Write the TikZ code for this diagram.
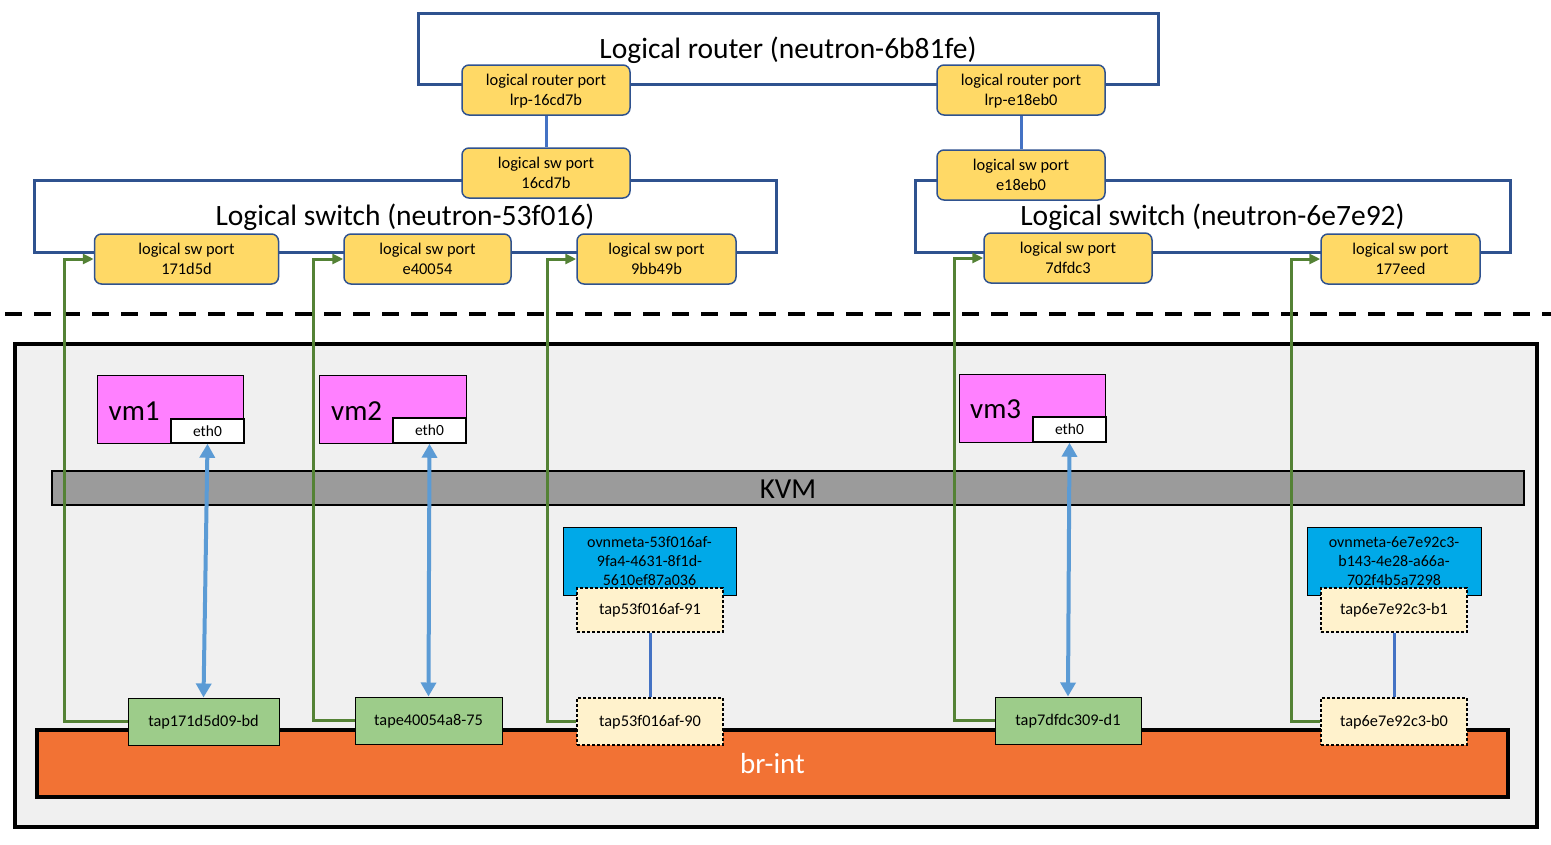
\documentclass[tikz,border=0pt]{standalone}
\usepackage{fontspec}
\setmainfont{Carlito}
\usetikzlibrary{arrows.meta}
\definecolor{frameblue}{HTML}{2F528F}
\definecolor{linkblue}{HTML}{4472C4}
\definecolor{arrowblue}{HTML}{5B9BD5}
\definecolor{portyellow}{HTML}{FFD966}
\definecolor{hostgray}{HTML}{F0F0F0}
\definecolor{kvmgray}{HTML}{9B9B9B}
\definecolor{vmpink}{HTML}{FF80FF}
\definecolor{metablue}{HTML}{00A9E8}
\definecolor{tapcream}{HTML}{FFF2CC}
\definecolor{tapgreen}{HTML}{9DCC8A}
\definecolor{brorange}{HTML}{F27234}
\definecolor{linkgreen}{HTML}{548235}
\newcommand\myfs[2]{\fontsize{#1pt}{#2pt}\selectfont}
\newcommand\twoline[2]{\rule{0pt}{14pt}#1\\#2\rule[-4pt]{0pt}{4pt}}
\newcommand\threeline[3]{\rule{0pt}{15pt}#1\\#2\\#3\rule[-4.4pt]{0pt}{4.4pt}}
\begin{document}
\begin{tikzpicture}[x=1pt,y=-1pt,
  frame/.style={draw=frameblue, line width=3pt, inner sep=0pt, font=\myfs{29.5}{35},
    text height=24pt, text depth=4.5pt},
  port/.style={draw=frameblue, line width=1.5pt, fill=portyellow, rounded corners=7pt,
    align=center, inner sep=0pt, minimum height=50pt, font=\myfs{16.4}{20}},
  hostbox/.style={fill=hostgray, draw=black, line width=4pt, inner sep=0pt},
  brbox/.style={fill=brorange, draw=black, line width=4pt, text=white, inner sep=0pt,
    font=\myfs{29}{35}, text height=24pt, text depth=4pt},
  kvmbox/.style={fill=kvmgray, draw=black, line width=2pt, inner sep=0pt,
    font=\myfs{29}{35}, text height=24pt, text depth=4pt},
  vmbox/.style={fill=vmpink, draw=black, line width=1pt, inner sep=0pt},
  vmlabel/.style={inner sep=0pt, font=\myfs{29}{35}},
  ethbox/.style={fill=white, draw=black, line width=1.5pt, inner sep=0pt,
    font=\myfs{15.5}{19}, text height=14pt, text depth=4pt},
  metabox/.style={fill=metablue, draw=black, line width=1pt, inner sep=0pt, align=center,
    font=\myfs{16}{19}},
  tapdash/.style={fill=tapcream, draw=black, line width=1.5pt, dash pattern=on 3pt off 2pt,
    inner sep=0pt, font=\myfs{16.3}{19}, text height=13pt, text depth=4pt},
  tapgreenbox/.style={fill=tapgreen, draw=black, line width=1pt, inner sep=0pt,
    font=\myfs{16.3}{19}, text height=13pt, text depth=4pt},
  rlink/.style={draw=linkblue, line width=3pt},
  vlink/.style={draw=arrowblue, line width=4pt,
    {Triangle[width=15pt,length=14pt]}-{Triangle[width=15pt,length=14pt]}},
  glink/.style={draw=linkgreen, line width=3pt, -{Triangle[width=10pt,length=11pt]}},
  sepline/.style={draw=black, line width=4pt, dash pattern=on 17pt off 12pt}
]
\useasboundingbox (0,0) rectangle (1551,844);

% logical layer frames
\node[frame, minimum width=740pt, minimum height=71pt] (router) at (788,48.5) {Logical router (neutron-6b81fe)};
\node[frame, minimum width=742pt, minimum height=72pt] (sw1) at (405,216) {Logical switch (neutron-53f016)};
\node[frame, minimum width=595pt, minimum height=72pt] (sw2) at (1212.5,216) {Logical switch (neutron-6e7e92)};

% ports
\node[port, minimum width=168pt] (lrp1) at (546,90) {\twoline{logical router port}{lrp-16cd7b}};
\node[port, minimum width=168pt] (lrp2) at (1021,90) {\twoline{logical router port}{lrp-e18eb0}};
\node[port, minimum width=168pt] (lsp16) at (546,173) {\twoline{logical sw port}{16cd7b}};
\node[port, minimum width=168pt] (lspe18) at (1021,175) {\twoline{logical sw port}{e18eb0}};
\node[port, minimum width=184pt] (p171) at (186.5,259) {\twoline{logical sw port}{171d5d}};
\node[port, minimum width=167pt] (pe40) at (427.5,259) {\twoline{logical sw port}{e40054}};
\node[port, minimum width=159pt] (p9bb) at (656.5,259) {\twoline{logical sw port}{9bb49b}};
\node[port, minimum width=168pt] (p7df) at (1068,258) {\twoline{logical sw port}{7dfdc3}};
\node[port, minimum width=159pt] (p177) at (1400.5,259) {\twoline{logical sw port}{177eed}};

% separator
\coordinate (sepL) at (5,314);
\coordinate (sepR) at (1551,314);
\draw[sepline] (sepL) -- (sepR);

% host
\node[hostbox, minimum width=1522pt, minimum height=483pt] (host) at (776,585.5) {};
\node[brbox, minimum width=1471pt, minimum height=67pt] (brint) at (772.5,763.5) {br-int};
\node[kvmbox, minimum width=1472pt, minimum height=34pt] (kvm) at (788,488) {KVM};

% VMs
\node[vmbox, minimum width=146pt, minimum height=68pt] (vm1) at (170.75,409) {};
\node[vmlabel, anchor=base west] (vm1t) at (108.5,420) {vm1};
\node[ethbox, minimum width=73pt, minimum height=24pt] (eth1) at (207.5,431) {eth0};
\node[vmbox, minimum width=147pt, minimum height=68pt] (vm2) at (392.5,409) {};
\node[vmlabel, anchor=base west] (vm2t) at (331,420) {vm2};
\node[ethbox, minimum width=73pt, minimum height=25pt] (eth2) at (429.5,430.5) {eth0};
\node[vmbox, minimum width=146pt, minimum height=68pt] (vm3) at (1032,408) {};
\node[vmlabel, anchor=base west] (vm3t) at (970,418) {vm3};
\node[ethbox, minimum width=73pt, minimum height=25pt] (eth3) at (1069.5,429.5) {eth0};

% metadata namespaces
\node[metabox, minimum width=173pt, minimum height=68pt] (meta1) at (649.5,561) {\threeline{ovnmeta-53f016af-}{9fa4-4631-8f1d-}{5610ef87a036}};
\node[metabox, minimum width=174pt, minimum height=68pt] (meta2) at (1394,561) {\threeline{ovnmeta-6e7e92c3-}{b143-4e28-a66a-}{702f4b5a7298}};

% taps
\node[tapdash, minimum width=146pt, minimum height=44pt] (t91) at (650,610) {tap53f016af-91};
\node[tapdash, minimum width=146pt, minimum height=47pt] (t90) at (650,721.5) {tap53f016af-90};
\node[tapdash, minimum width=146pt, minimum height=44pt] (tb1) at (1394,610) {tap6e7e92c3-b1};
\node[tapdash, minimum width=146pt, minimum height=47pt] (tb0) at (1394,721.5) {tap6e7e92c3-b0};
\node[tapgreenbox, minimum width=151pt, minimum height=47pt] (tap1) at (203.5,721.5) {tap171d5d09-bd};
\node[tapgreenbox, minimum width=147pt, minimum height=47pt] (tap2) at (428.5,720.5) {tape40054a8-75};
\node[tapgreenbox, minimum width=146pt, minimum height=47pt] (tap7) at (1068,720.5) {tap7dfdc309-d1};

% router to switch links
\draw[rlink] (lrp1.south) -- (lsp16.north);
\draw[rlink] (lrp2.south) -- (lspe18.north);
\draw[rlink] (t91.south) -- (t90.north);
\draw[rlink] (tb1.south) -- (tb0.north);

% green binding links
\draw[glink] (tap1.west) -| ([xshift=-29pt]p171.west) -- (p171.west);
\draw[glink] (tap2.west) -| ([xshift=-30pt]pe40.west) -- (pe40.west);
\draw[glink] (t90.west) -| ([xshift=-29pt]p9bb.west) -- (p9bb.west);
\draw[glink] (tap7.west) -| ([xshift=-29pt]p7df.west) -- (p7df.west);
\draw[glink] (tb0.west) -| ([xshift=-29pt]p177.west) -- (p177.west);

% vm to tap links
\draw[vlink] (eth1.south) -- (tap1.north);
\draw[vlink] (eth2.south) -- (tap2.north);
\draw[vlink] (eth3.south) -- (tap7.north);
\end{tikzpicture}
\end{document}
